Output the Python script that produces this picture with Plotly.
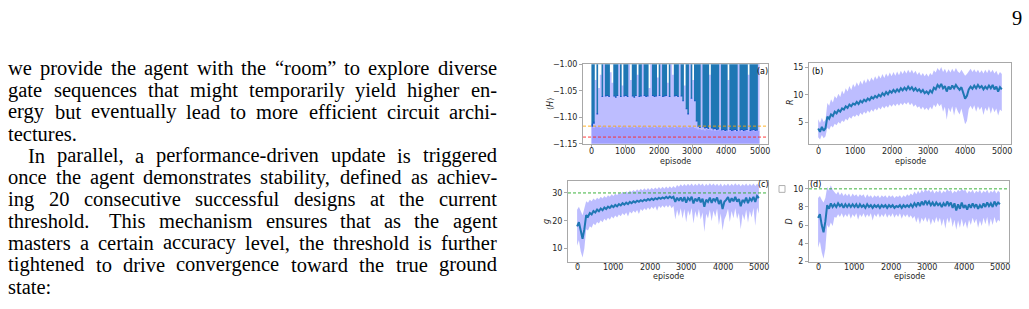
import plotly.graph_objects as go

W, H = 1029, 309

# ---------------- data ----------------
episodes = list(range(0, 5001, 50))

# (a) energy <H>: lower edge of the dark trace region, top of the spread band, top of the dense band
energy_dark_low = [
    -1.118, -1.112, -1.0, -1.095, -1.0, -1.0, -1.062, -1.0, -1.061, -1.060,
    -1.062, -1.0, -1.0, -1.061, -1.063, -1.060, -1.0, -1.062, -1.0, -1.061,
    -1.060, -1.062, -1.0, -1.0, -1.061, -1.063, -1.060, -1.0, -1.062, -1.061,
    -1.0, -1.060, -1.062, -1.061, -1.0, -1.0, -1.060, -1.062, -1.061, -1.0,
    -1.060, -1.0, -1.062, -1.061, -1.060, -1.0, -1.062, -1.0, -1.0, -1.061,
    -1.060, -1.062, -1.0, -1.061, -1.070, -1.0, -1.085, -1.095, -1.0, -1.065,
    -1.0, -1.070, -1.108, -1.118, -1.120, -1.0, -1.119, -1.121, -1.120, -1.122,
    -1.0, -1.121, -1.123, -1.122, -1.124, -1.123, -1.0, -1.125, -1.124, -1.126,
    -1.125, -1.0, -1.124, -1.126, -1.125, -1.124, -1.126, -1.0, -1.125, -1.124,
    -1.126, -1.125, -1.124, -1.0, -1.126, -1.125, -1.124, -1.126, -1.125, -1.0,
    -1.124]
energy_band_top = [
    -1.112, -1.108, -1.03, -1.092, -1.045, -1.02, -1.060, -1.0, -1.059, -1.058,
    -1.060, -1.015, -1.035, -1.059, -1.061, -1.058, -1.0, -1.060, -1.04, -1.059,
    -1.058, -1.060, -1.0, -1.03, -1.059, -1.061, -1.058, -1.02, -1.060, -1.059,
    -1.0, -1.058, -1.060, -1.059, -1.045, -1.0, -1.058, -1.060, -1.059, -1.025,
    -1.058, -1.0, -1.060, -1.059, -1.058, -1.035, -1.060, -1.0, -1.02, -1.059,
    -1.058, -1.060, -1.0, -1.059, -1.068, -1.04, -1.083, -1.092, -1.0, -1.063,
    -1.03, -1.068, -1.106, -1.116, -1.118, -1.0, -1.117, -1.119, -1.118, -1.120,
    -1.02, -1.119, -1.121, -1.120, -1.122, -1.121, -1.0, -1.123, -1.122, -1.124,
    -1.123, -1.03, -1.122, -1.124, -1.123, -1.122, -1.124, -1.0, -1.123, -1.122,
    -1.124, -1.123, -1.122, -1.02, -1.124, -1.123, -1.122, -1.124, -1.123, -1.0,
    -1.122]
energy_core_top = [
    -1.118, -1.120, -1.117, -1.119, -1.118, -1.120, -1.117, -1.119, -1.118, -1.120,
    -1.117, -1.119, -1.118, -1.120, -1.117, -1.119, -1.118, -1.120, -1.117, -1.119,
    -1.118, -1.120, -1.117, -1.119, -1.118, -1.120, -1.117, -1.119, -1.118, -1.120,
    -1.117, -1.119, -1.118, -1.120, -1.117, -1.119, -1.118, -1.120, -1.117, -1.119,
    -1.118, -1.120, -1.117, -1.119, -1.118, -1.120, -1.117, -1.119, -1.118, -1.120,
    -1.117, -1.119, -1.118, -1.120, -1.117, -1.119, -1.118, -1.120, -1.117, -1.119,
    -1.118, -1.120, -1.121, -1.123, -1.122, -1.124, -1.123, -1.125, -1.122, -1.124,
    -1.123, -1.125, -1.124, -1.126, -1.123, -1.125, -1.124, -1.126, -1.125, -1.127,
    -1.125, -1.127, -1.124, -1.126, -1.125, -1.127, -1.124, -1.126, -1.125, -1.127,
    -1.124, -1.126, -1.125, -1.127, -1.124, -1.126, -1.125, -1.127, -1.124, -1.126,
    -1.125]
E_HF = -1.1167
E_GROUND = -1.1373

# (b) R
reward_mean = [
    3.8, 3.2, 4.1, 3.4, 3.9, 6.0, 5.6, 6.4, 6.1, 6.9, 6.6, 7.2, 6.9, 7.5, 7.3, 7.9, 7.6, 8.2, 7.9, 8.4,
    8.2, 8.7, 8.3, 8.9, 8.6, 9.1, 8.8, 9.3, 9.0, 9.6, 9.3, 9.8, 9.5, 10.0, 9.7, 10.3, 9.9, 10.5, 10.1, 10.7,
    10.4, 10.9, 10.5, 11.0, 10.6, 11.2, 10.8, 11.3, 10.9, 11.5, 11.0, 11.4, 10.8, 11.2, 10.7, 11.0, 10.5, 10.9, 10.3, 10.6,
    10.2, 10.8, 10.4, 11.3, 11.0, 11.8, 11.4, 12.0, 11.2, 11.6, 10.6, 11.5, 11.0, 11.7, 11.2, 11.8, 11.3, 10.9, 11.4, 10.2,
    9.3, 9.8, 11.0, 11.5, 11.1, 11.7, 11.2, 11.8, 11.3, 11.6, 11.0, 11.5, 11.1, 11.7, 11.2, 11.8, 11.0, 11.5, 10.6, 11.4, 11.0]
reward_hi = [
    5.5, 4.8, 5.8, 5.0, 5.4, 8.5, 8.0, 9.2, 8.6, 9.8, 9.3, 10.2, 9.6, 10.8, 10.1, 11.2, 10.6, 11.6, 10.9, 12.0,
    11.4, 12.3, 11.6, 12.6, 11.9, 12.8, 12.1, 13.0, 12.4, 13.2, 12.6, 13.4, 12.8, 13.6, 13.0, 13.8, 13.1, 13.9, 13.3, 14.1,
    13.4, 14.2, 13.5, 14.3, 13.6, 14.4, 13.8, 14.5, 13.9, 14.6, 14.0, 14.6, 13.9, 14.4, 13.7, 14.2, 13.5, 14.0, 13.4, 13.9,
    13.3, 14.0, 13.6, 14.5, 14.1, 14.9, 14.4, 15.1, 14.2, 14.8, 14.0, 14.7, 14.1, 14.8, 14.2, 14.9, 14.3, 14.0, 14.6, 13.9,
    13.5, 13.8, 14.3, 14.8, 14.2, 14.7, 14.1, 14.6, 14.0, 14.5, 13.9, 14.6, 14.0, 14.7, 14.1, 14.6, 13.9, 14.4, 13.6, 14.2, 13.8]
reward_lo = [
    2.2, 1.8, 2.6, 2.0, 2.4, 4.0, 3.6, 4.3, 4.0, 4.7, 4.4, 5.0, 4.7, 5.3, 5.0, 5.6, 5.3, 5.9, 5.6, 6.2,
    5.9, 6.4, 6.0, 6.7, 6.3, 6.9, 6.5, 7.1, 6.7, 7.3, 6.9, 7.5, 7.1, 7.7, 7.3, 7.9, 7.5, 8.0, 7.6, 8.2,
    7.8, 8.3, 7.9, 8.4, 8.0, 8.5, 8.1, 8.6, 8.2, 8.7, 8.1, 8.5, 7.8, 8.2, 7.6, 7.9, 7.3, 7.8, 7.2, 7.6,
    7.1, 7.8, 7.3, 8.2, 7.7, 8.5, 7.9, 8.3, 6.9, 7.8, 5.4, 7.6, 6.8, 7.9, 6.2, 7.8, 7.0, 6.4, 7.5, 5.8,
    4.6, 5.2, 7.4, 8.0, 7.3, 8.1, 6.9, 7.9, 7.2, 7.8, 6.3, 7.6, 7.0, 7.9, 6.5, 7.7, 6.8, 7.5, 6.2, 7.3, 7.0]

# (c) g
gates_mean = [
    18.0, 19.5, 16.5, 13.5, 17.0, 22.0, 21.5, 22.8, 22.3, 23.5, 23.0, 24.0, 23.4, 24.4, 23.8, 24.8, 24.2, 25.1, 24.6, 25.4,
    24.9, 25.7, 25.2, 26.0, 25.5, 26.3, 25.8, 26.5, 26.0, 26.8, 26.3, 27.0, 26.6, 27.2, 26.8, 27.4, 27.0, 27.6, 27.2, 27.8,
    27.4, 28.0, 27.5, 28.1, 27.7, 28.3, 27.9, 28.4, 28.0, 28.6, 28.1, 28.7, 28.2, 28.6, 26.8, 28.3, 27.2, 28.4, 27.0, 28.5,
    26.5, 28.2, 27.4, 28.6, 26.2, 28.0, 27.0, 28.4, 26.6, 27.9, 25.0, 27.6, 26.8, 28.3, 26.4, 28.0, 27.1, 28.4, 26.0, 27.5,
    24.2, 26.8, 27.5, 28.5, 26.6, 28.1, 27.0, 28.6, 26.9, 27.8, 25.2, 27.5, 26.7, 28.3, 26.3, 28.0, 27.2, 28.6, 26.8, 28.9, 28.2]
gates_hi = [
    24.0, 25.0, 23.5, 22.0, 24.5, 27.0, 26.5, 27.6, 27.0, 28.0, 27.4, 28.3, 27.7, 28.6, 28.0, 28.9, 28.3, 29.2, 28.6, 29.5,
    28.9, 29.8, 29.2, 30.1, 29.5, 30.4, 29.8, 30.6, 30.0, 30.9, 30.3, 31.1, 30.5, 31.3, 30.7, 31.5, 30.9, 31.7, 31.0, 31.8,
    31.1, 31.9, 31.2, 32.0, 31.3, 32.1, 31.4, 32.2, 31.5, 32.3, 31.6, 32.4, 31.7, 32.5, 31.8, 32.9, 32.2, 33.1, 32.4, 33.2,
    32.5, 33.3, 32.6, 33.4, 32.5, 33.3, 32.6, 33.5, 32.7, 33.4, 32.4, 33.3, 32.6, 33.5, 32.7, 33.4, 32.6, 33.3, 32.5, 33.4,
    32.3, 33.2, 32.6, 33.4, 32.5, 33.3, 32.6, 33.5, 32.7, 33.3, 32.4, 33.2, 32.6, 33.4, 32.5, 33.3, 32.6, 33.4, 32.5, 33.3, 32.8]
gates_lo = [
    11.0, 13.0, 9.0, 6.8, 10.0, 17.0, 16.5, 18.0, 17.5, 19.0, 18.4, 19.6, 19.0, 20.2, 19.5, 20.7, 20.0, 21.1, 20.4, 21.5,
    20.8, 21.9, 21.2, 22.3, 21.6, 22.7, 22.0, 23.0, 21.5, 23.3, 22.6, 23.6, 22.9, 23.9, 22.4, 24.2, 23.5, 24.5, 23.8, 24.8,
    24.0, 25.0, 24.2, 25.2, 23.6, 25.4, 24.6, 25.5, 24.7, 25.6, 24.8, 25.7, 24.5, 25.3, 20.5, 24.0, 21.5, 24.5, 20.8, 24.2,
    19.5, 23.8, 21.8, 24.6, 19.0, 23.5, 21.0, 24.2, 20.5, 23.0, 16.0, 22.5, 20.8, 24.0, 19.8, 23.6, 21.4, 24.4, 18.5, 22.6,
    16.5, 20.5, 22.0, 24.3, 19.6, 23.5, 20.9, 24.5, 20.6, 22.8, 17.0, 22.4, 20.2, 24.0, 19.3, 23.5, 21.2, 24.6, 18.2, 24.8, 22.5]
G_TARGET = 30

# (d) D
depth_mean = [
    6.8, 7.2, 6.0, 5.2, 6.4, 8.2, 7.8, 8.4, 8.0, 8.3, 8.0, 8.4, 8.1, 8.3, 7.9, 8.3, 8.0, 8.3, 8.0, 8.3,
    8.0, 8.3, 7.9, 8.3, 8.0, 8.2, 7.9, 8.3, 8.0, 8.2, 7.9, 8.2, 8.0, 8.2, 7.9, 8.2, 8.0, 8.2, 7.9, 8.2,
    8.0, 8.2, 7.9, 8.1, 8.0, 8.2, 7.9, 8.2, 8.0, 8.2, 8.0, 8.3, 8.0, 8.4, 8.1, 8.5, 8.1, 8.6, 8.2, 8.7,
    8.3, 8.6, 8.2, 8.5, 8.1, 8.5, 8.2, 8.4, 8.0, 8.4, 8.1, 8.6, 8.2, 8.5, 7.9, 8.4, 7.6, 8.3, 7.8, 8.5,
    7.9, 8.2, 7.7, 8.3, 7.9, 8.4, 8.0, 8.3, 7.8, 8.2, 7.9, 8.4, 8.0, 8.5, 8.1, 8.4, 8.0, 8.6, 8.2, 8.5, 8.3]
depth_hi = [
    9.0, 9.2, 8.8, 8.5, 9.0, 10.2, 9.8, 10.4, 9.9, 9.6, 9.4, 9.7, 9.3, 9.6, 9.2, 9.5, 9.2, 9.5, 9.1, 9.5,
    9.2, 9.4, 9.1, 9.4, 9.2, 9.4, 9.0, 9.4, 9.1, 9.3, 9.0, 9.3, 9.1, 9.3, 9.0, 9.3, 9.1, 9.3, 9.0, 9.3,
    9.1, 9.3, 9.0, 9.2, 9.1, 9.3, 9.0, 9.3, 9.1, 9.4, 9.2, 9.5, 9.3, 9.7, 9.4, 9.8, 9.5, 9.9, 9.6, 10.0,
    9.7, 9.9, 9.6, 9.9, 9.5, 9.8, 9.6, 9.9, 9.5, 9.8, 9.6, 10.0, 9.7, 9.9, 9.5, 9.8, 9.6, 9.9, 9.7, 10.0,
    9.8, 9.9, 9.5, 9.8, 9.6, 9.9, 9.5, 9.8, 9.6, 9.9, 9.5, 9.8, 9.6, 9.9, 9.5, 9.8, 9.6, 9.9, 9.5, 9.8, 9.6]
depth_lo = [
    3.5, 4.2, 3.0, 2.3, 3.4, 6.0, 5.7, 6.3, 5.9, 6.9, 6.8, 7.2, 6.9, 7.3, 6.8, 7.2, 6.9, 7.3, 6.7, 7.2,
    6.9, 7.3, 6.6, 7.2, 6.9, 7.3, 6.8, 7.2, 6.9, 7.3, 6.5, 7.2, 6.9, 7.3, 6.8, 7.2, 6.9, 7.3, 6.8, 7.2,
    6.9, 7.3, 6.8, 7.2, 6.9, 7.3, 6.7, 7.2, 6.9, 7.2, 6.8, 7.1, 6.7, 7.0, 6.3, 6.9, 6.1, 6.8, 6.4, 6.9,
    6.3, 6.8, 6.0, 6.7, 6.2, 6.9, 6.3, 6.8, 5.9, 6.7, 5.6, 6.8, 6.2, 6.9, 5.8, 6.6, 5.5, 6.5, 5.7, 6.7,
    5.8, 6.4, 5.6, 6.6, 6.0, 6.8, 6.2, 6.7, 5.7, 6.5, 5.9, 6.8, 6.1, 6.9, 5.8, 6.7, 6.0, 6.9, 6.2, 6.6, 6.4]
D_TARGET = 10

x_ticks = [0, 1000, 2000, 3000, 4000, 5000]

page_lines = [
    ("we provide the agent with the \u201croom\u201d to explore diverse", False, True),
    ("gate sequences that might temporarily yield higher en-", False, True),
    ("ergy but eventually lead to more efficient circuit archi-", False, True),
    ("tectures.", False, False),
    ("In parallel, a performance-driven update is triggered", True, True),
    ("once the agent demonstrates stability, defined as achiev-", False, True),
    ("ing 20 consecutive successful designs at the current", False, True),
    ("threshold. This mechanism ensures that as the agent", False, True),
    ("masters a certain accuracy level, the threshold is further", False, True),
    ("tightened to drive convergence toward the true ground", False, True),
    ("state:", False, False),
]
page_number = "9"

# ---------------- layout helpers ----------------
DARK = "#1f77b4"
BAND = "rgba(0,0,255,0.26)"
CORE = "rgba(0,0,255,0.15)"
FRAME = "#a8a8a8"
TICKFONT = dict(family="DejaVu Sans", size=8, color="#262626")

boxes = {  # pixel boxes x0, x1, y0, y1
    "a": (583, 768, 62, 144),
    "b": (809, 1011, 61, 144),
    "c": (568, 768, 182, 266),
    "d": (809, 1009, 182, 266),
}


def dom(box):
    x0, x1, y0, y1 = box
    return [x0 / W, x1 / W], [1 - y1 / H, 1 - y0 / H]


fig = go.Figure()
N = len(episodes)


def add(trace, k):
    trace.update(xaxis="x" + ("" if k == 1 else str(k)), yaxis="y" + ("" if k == 1 else str(k)),
                 showlegend=False, hoverinfo="skip")
    fig.add_trace(trace)


# (a)
add(go.Scatter(x=episodes, y=energy_dark_low, mode="lines", line=dict(width=0, shape="hv")), 1)
add(go.Scatter(x=episodes, y=[-0.95] * N, mode="lines", line=dict(width=0, shape="hv"),
               fill="tonexty", fillcolor=DARK), 1)
add(go.Scatter(x=episodes, y=[-1.2] * N, mode="lines", line=dict(width=0, shape="hv")), 1)
add(go.Scatter(x=episodes, y=energy_band_top, mode="lines", line=dict(width=0, shape="hv"),
               fill="tonexty", fillcolor=BAND), 1)
add(go.Scatter(x=episodes, y=[-1.2] * N, mode="lines", line=dict(width=0, shape="hv")), 1)
add(go.Scatter(x=episodes, y=energy_core_top, mode="lines", line=dict(width=0, shape="hv"),
               fill="tonexty", fillcolor=CORE), 1)


def band_panel(mean, lo, hi, k):
    add(go.Scatter(x=episodes, y=lo, mode="lines", line=dict(width=0)), k)
    add(go.Scatter(x=episodes, y=hi, mode="lines", line=dict(width=0), fill="tonexty", fillcolor=BAND), k)
    add(go.Scatter(x=episodes, y=mean, mode="lines", line=dict(width=2.0, color=DARK)), k)


band_panel(reward_mean, reward_lo, reward_hi, 2)
band_panel(gates_mean, gates_lo, gates_hi, 3)
band_panel(depth_mean, depth_lo, depth_hi, 4)

yranges = {1: [-1.15, -1.0], 2: [1.0, 15.8], 3: [5.1, 34.4], 4: [1.9, 10.9]}
yticks = {1: [-1.15, -1.10, -1.05, -1.00], 2: [5, 10, 15], 3: [10, 20, 30], 4: [2, 4, 6, 8, 10]}
yfmt = {1: ".2f", 2: "d", 3: "d", 4: "d"}
layout = dict(width=W, height=H, margin=dict(l=0, r=0, t=0, b=0), paper_bgcolor="white",
              plot_bgcolor="white", showlegend=False)
for k, key in zip([1, 2, 3, 4], ["a", "b", "c", "d"]):
    xd, yd = dom(boxes[key])
    sfx = "" if k == 1 else str(k)
    common = dict(showline=True, linecolor=FRAME, linewidth=1, mirror=True, showgrid=False,
                  zeroline=False, ticks="outside", ticklen=3, tickcolor=FRAME, tickwidth=1,
                  tickfont=TICKFONT, ticklabelstandoff=0)
    layout["xaxis" + sfx] = dict(domain=xd, anchor="y" + sfx, range=[-250, 5250], tickvals=x_ticks,
                                 showticklabels=False, **common)
    layout["yaxis" + sfx] = dict(domain=yd, anchor="x" + sfx, range=yranges[k], tickvals=yticks[k],
                                 tickformat=yfmt[k], **common)
fig.update_layout(**layout)

# threshold lines
for yref, val, col in [("y", E_HF, "rgba(255,165,0,0.85)"), ("y", E_GROUND, "rgba(255,40,40,0.9)"),
                       ("y3", G_TARGET, "rgba(40,170,40,0.9)"), ("y4", D_TARGET, "rgba(40,170,40,0.9)")]:
    xr = {"y": "x", "y3": "x3", "y4": "x4"}[yref]
    fig.add_shape(type="line", xref=xr + " domain", yref=yref, x0=0, x1=1, y0=val, y1=val,
                  line=dict(color=col, width=1, dash="3px,2px"))

# tofu glyph artifact near panel (d)
fig.add_shape(type="rect", xref="paper", yref="paper", x0=779 / W, x1=785 / W,
              y0=1 - 194 / H, y1=1 - 187 / H, line=dict(color="#b0b0b0", width=1))


def ann(px, py, text, size=8, family="DejaVu Sans", color="#262626", xanchor="center", angle=0,
        yanchor="middle", xref="paper"):
    xv = px if xref != "paper" else px / W
    fig.add_annotation(x=xv, y=1 - py / H, xref=xref, yref="paper", text=text, showarrow=False,
                       xanchor=xanchor, yanchor=yanchor, textangle=angle, borderpad=0,
                       font=dict(size=size, family=family, color=color))


# x tick labels (placed on the data axis)
for xr, py in [("x", 152), ("x2", 152), ("x3", 271.5), ("x4", 271.5)]:
    for t in x_ticks:
        ann(t, py, str(t), xref=xr)

# axis titles
for px, py in [(675, 162), (910, 162), (668, 281), (909, 281)]:
    ann(px, py, "episode", size=8)
ann(551, 103, "\u27e8<i>H</i>\u27e9", size=8, angle=-90)
ann(790, 101, "<i>R</i>", size=8, angle=-90)
ann(546.5, 224, "<i>g</i>", size=8, angle=-90)
ann(789, 224, "<i>D</i>", size=8, angle=-90)
# panel tags
ann(762, 70, "(a)", size=8, color="black")
ann(817, 70, "(b)", size=8, color="black")
ann(763, 186, "(c)", size=8, color="black")
ann(815, 186, "(d)", size=8, color="black")

# ---------------- page text (justified with Times metrics) ----------------
TIMES = {' ': 250, ',': 250, '-': 333, '.': 250, ':': 278, '\u201c': 444, '\u201d': 444}
for c in "0123456789":
    TIMES[c] = 500
TIMES.update(dict(zip("abcdefghijklmnopqrstuvwxyz",
                      [444, 500, 444, 500, 444, 333, 500, 500, 278, 278, 500, 278, 778, 500, 500, 500,
                       500, 333, 389, 278, 500, 500, 722, 500, 500, 444])))
TIMES.update({'I': 333, 'T': 611})
FS = 20.5
LEFT, RIGHT, INDENT = 7.3, 496.0, 26.7
BASE0, LEAD = 73.0, 22.5
SERIF = "Liberation Serif"


def tw(s):
    return sum(TIMES.get(c, 500) for c in s) * FS / 1000.0


for i, (line, indent, justify) in enumerate(page_lines):
    base = BASE0 + i * LEAD
    cy = base - 0.3375 * FS
    x0 = LEFT + (INDENT - LEFT if indent else 0)
    words = line.split(" ")
    if not justify:
        ann(x0, cy, line, size=FS, family=SERIF, color="black", xanchor="left")
        continue
    widths = [tw(w) for w in words]
    weights = [1.5 if words[j].endswith(".") else 1.0 for j in range(len(words) - 1)]
    gap = (RIGHT - x0 - sum(widths)) / sum(weights)
    x = x0
    for j, w in enumerate(words):
        ann(x, cy, w, size=FS, family=SERIF, color="black", xanchor="left")
        if j < len(weights):
            x += widths[j] + gap * weights[j]

ann(1017, 14, page_number, size=FS, family=SERIF, color="black")

fig.write_html("out.html")
